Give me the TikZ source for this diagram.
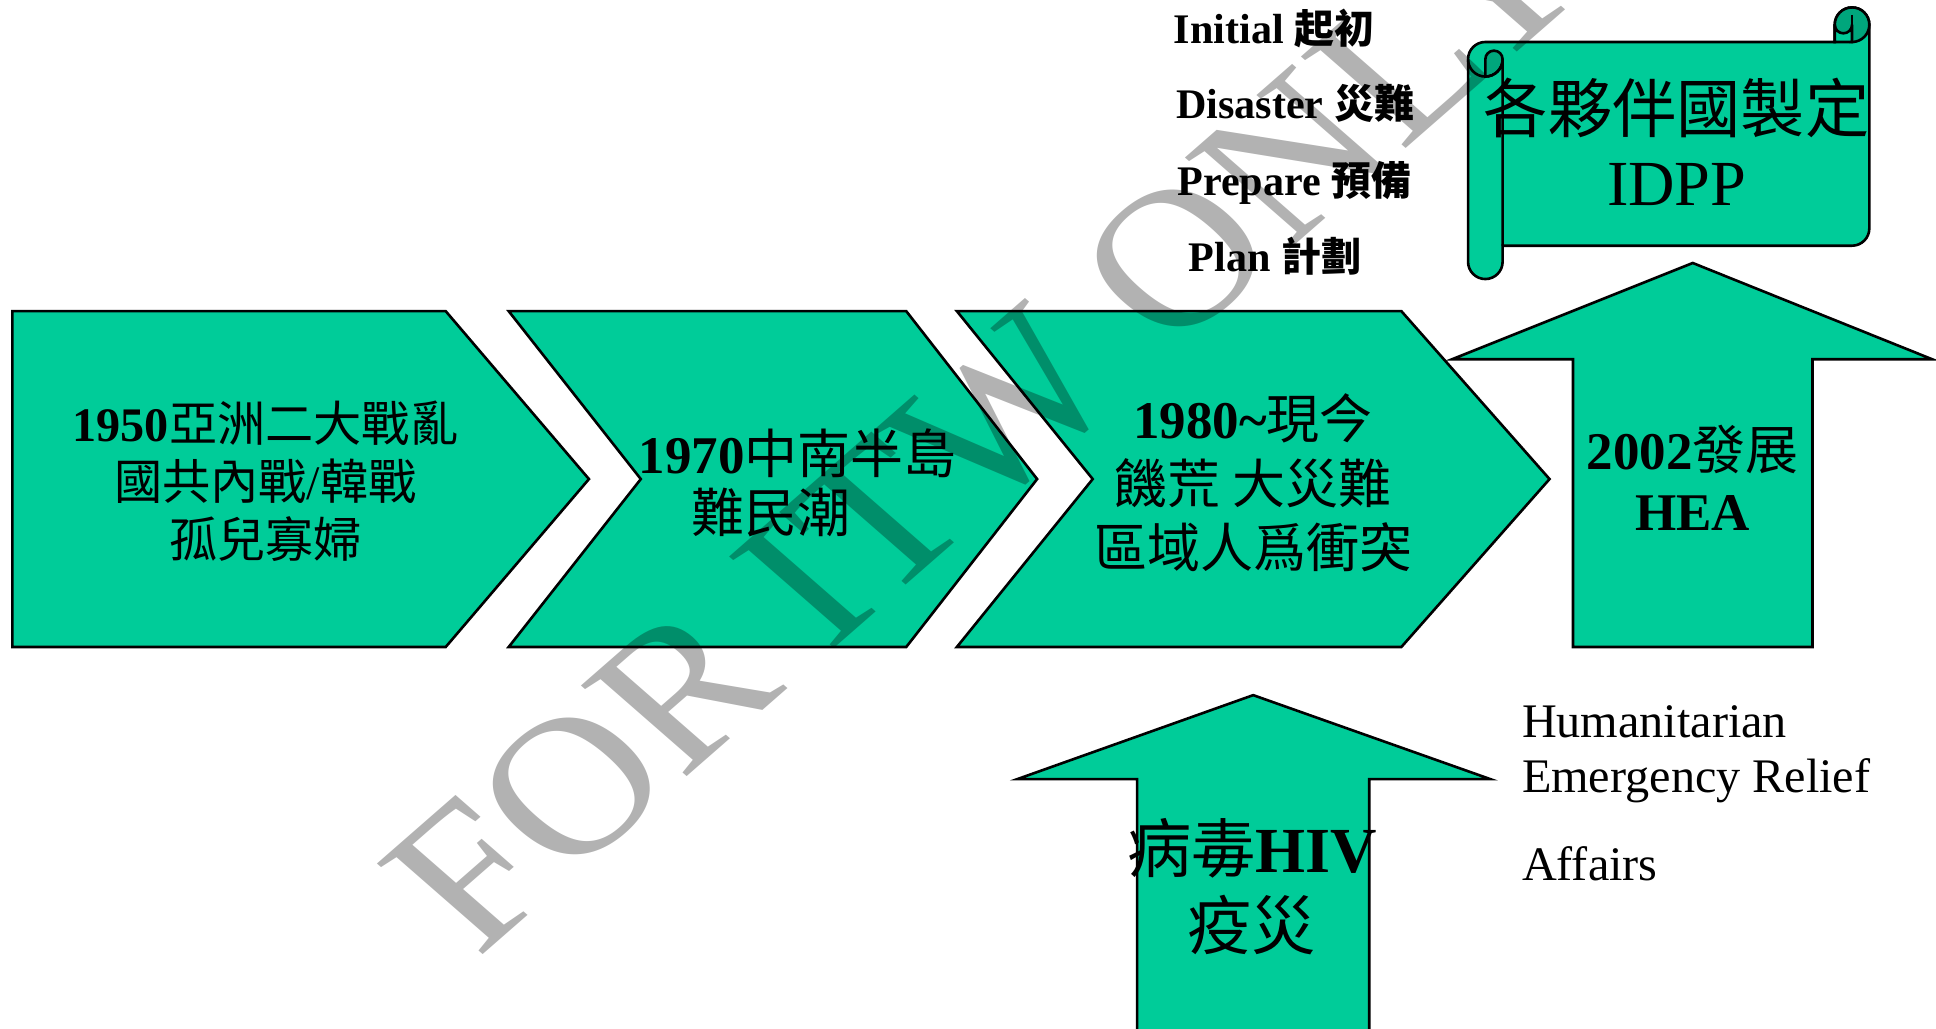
\documentclass[tikz,border=0pt]{standalone}
\usepackage{fontspec}
\setmainfont{Liberation Serif}
\newfontfamily\cjk{Noto Sans CJK TC}
\definecolor{hgreen}{RGB}{0,204,153}
\definecolor{hdark}{RGB}{0,166,124}

\begin{document}
\begin{tikzpicture}[x = 0.01cm, y = -0.01cm,
	greenshape/.style = {draw, line width = 0.6pt, fill = hgreen, line join = miter},
	curl/.style = {draw, line width = 0.6pt, fill = hdark},
	boxtext/.style = {inner sep = 0pt, align = center},
	steptext/.style = {inner sep = 0pt, anchor = base west, font = \fontsize{9.7}{11}\selectfont\bfseries}]
	\useasboundingbox (0,0) rectangle (1568,833);
	\clip (0,0) rectangle (1568,833);
	% chevrons
	\draw [greenshape] (10,252) -- (361,252) -- (477,388) -- (361,524) -- (10,524) -- cycle;
	\draw [greenshape] (412,252) -- (734,252) -- (840,388) -- (734,524) -- (412,524) -- (519,388) -- cycle;
	\draw [greenshape] (775,252) -- (1135,252) -- (1255,388) -- (1135,524) -- (775,524) -- (885,388) -- cycle;
	% block arrows
	\draw [greenshape] (1371,213) -- (1565,291) -- (1468,291) -- (1468,524) -- (1274,524) -- (1274,291) -- (1176,291) -- cycle;
	\draw [greenshape] (1015,563) -- (1207,631) -- (1109,631) -- (1109,900) -- (921,900) -- (921,631) -- (824,631) -- cycle;
	% scroll
	\draw [greenshape] (1189,48) arc (180:270:14) -- (1486,34) -- (1486,20) arc (180:360:14) -- (1514,185) arc (0:90:14) -- (1217,199) -- (1217,212) arc (0:180:14) -- cycle;
	\draw [curl] (1203,48) arc (180:360:7) arc (0:90:14) -- cycle;
	\draw [line width = 0.6pt] (1189,48) arc (180:0:14) -- (1217,199);
	\draw [curl] (1500,20) circle (14);
	\draw [greenshape] (1486,20) arc (180:0:7) -- (1500,34) -- (1486,34) -- cycle;
	\draw [line width = 0.6pt] (1500,12) -- (1500,20);

	\node (era1) [boxtext, font = \fontsize{11.1}{13.4}\selectfont] at (215,390)
		{\textbf{1950}{\cjk 亞洲二大戰亂}\\{\cjk 國共內戰}/{\cjk 韓戰}\\{\cjk 孤兒寡婦}};
	\node (era2) [boxtext, font = \fontsize{12.2}{13.7}\selectfont] at (646,391)
		{\textbf{1970}{\cjk 中南半島}\\{\cjk 難民潮}\hspace*{1em}};
	\node (era3) [boxtext, font = \fontsize{12.2}{14.8}\selectfont] at (1015,391)
		{\textbf{1980\textasciitilde}{\cjk 現今}\\{\cjk 饑荒 大災難}\\{\cjk 區域人爲衝突}};
	\node (hea) [boxtext, font = \fontsize{12.2}{14.2}\selectfont] at (1371,387)
		{\textbf{2002}{\cjk 發展}\\\textbf{HEA}};
	\node (hiv) [boxtext, font = \fontsize{14.8}{17.6}\selectfont] at (1014,718)
		{{\cjk 病毒}\textbf{HIV}\\{\cjk 疫災}};
	\node (idpp) [boxtext, font = \fontsize{14.8}{16.8}\selectfont] at (1358,115)
		{{\cjk 各夥伴國製定}\\IDPP};

	\node (initial) [steptext] at (950,35) {Initial {\fontsize{9.2}{10}\cjk 起初}};
	\node (disaster) [steptext] at (952,96) {Disaster\ {\fontsize{9.2}{10}\cjk 災難}};
	\node (prepare) [steptext] at (953,158) {Prepare {\fontsize{9.2}{10}\cjk 預備}};
	\node (plan) [steptext] at (962,220) {Plan {\fontsize{9.2}{10}\cjk 計劃}};

	\node (human) [inner sep = 0pt, anchor = base west, font = \fontsize{11.1}{13}\selectfont] at (1232,597) {Humanitarian};
	\node (emerg) [inner sep = 0pt, anchor = base west, font = \fontsize{11.1}{13}\selectfont] at (1232,642) {Emergency Relief};
	\node (affairs) [inner sep = 0pt, anchor = base west, font = \fontsize{11.1}{13}\selectfont] at (1232,713) {Affairs};

	\node (stamp) [xscale = 1.145, rotate = 45, anchor = base west, inner sep = 0pt, text opacity = 0.3, font = \fontsize{45.5}{50}\selectfont] at (386,778) {FOR ITW ONLY};
\end{tikzpicture}
\end{document}
